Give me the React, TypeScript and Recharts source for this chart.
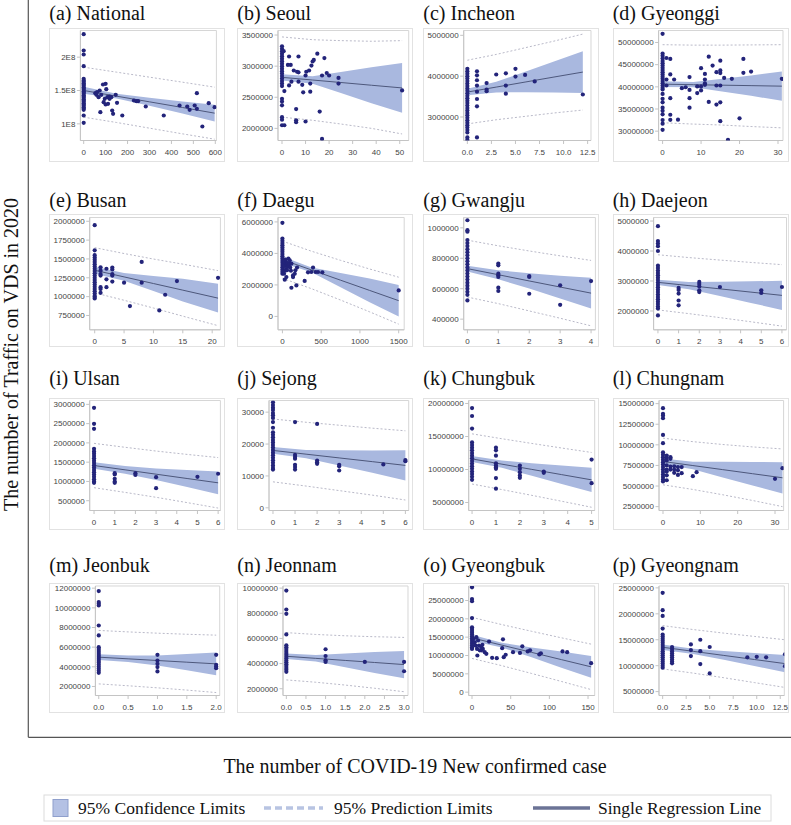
import * as React from 'react';
import { ComposedChart, XAxis, YAxis, Area, Line, Scatter, ReferenceArea } from 'recharts';

type Pt = [number, number];
// x, predLo, ciLo, fit, ciHi, predHi
type FitRow = [number, number, number, number, number, number];

const at = (x: number, ys: number[]): Pt[] => ys.map((y) => [x, y] as Pt);

const nationalPts: Pt[] = [
  ...at(0, [2.345e8, 2.1e8, 2.04e8, 1.865e8, 1.675e8, 1.65e8, 1.63e8, 1.61e8, 1.59e8, 1.57e8, 1.55e8, 1.53e8, 1.51e8, 1.49e8, 1.47e8, 1.45e8, 1.43e8, 1.41e8, 1.39e8, 1.37e8, 1.35e8, 1.33e8, 1.31e8, 1.29e8, 1.27e8, 1.25e8, 1.23e8, 1.21e8, 1.125e8, 1.015e8]),
  [53, 1.46e8], [58, 1.435e8], [61, 1.475e8], [68, 1.4e8], [73, 1.5e8], [76, 1.175e8], [80, 1.435e8], [88, 1.59e8],
  [91, 1.325e8], [96, 1.375e8], [100, 1.6e8], [100, 1.29e8], [103, 1.52e8], [108, 1.4e8], [111, 1.3e8], [118, 1.375e8],
  [118, 1.41e8], [126, 1.4e8], [130, 1.2e8], [134, 1.15e8], [146, 1.435e8], [152, 1.315e8], [176, 1.125e8], [229, 1.35e8],
  [240, 1.34e8], [248, 1.34e8], [283, 1.26e8], [365, 1.125e8], [437, 1.275e8], [472, 1.26e8], [483, 1.21e8], [506, 1.275e8],
  [516, 1.46e8], [516, 1.225e8], [541, 0.96e8], [570, 1.31e8], [597, 1.25e8],
];
const nationalFit: FitRow[] = [
  [0, 1.1e8, 1.45e8, 1.5e8, 1.555e8, 1.85e8],
  [150, 1.02e8, 1.38e8, 1.415e8, 1.45e8, 1.775e8],
  [300, 0.935e8, 1.27e8, 1.33e8, 1.39e8, 1.7e8],
  [450, 0.85e8, 1.155e8, 1.245e8, 1.335e8, 1.625e8],
  [597, 0.77e8, 1.035e8, 1.16e8, 1.285e8, 1.55e8],
];

const seoulPts: Pt[] = [
  ...at(0, [3.32e6, 3.28e6, 3.24e6, 3.2e6, 3.16e6, 3.12e6, 3.08e6, 3.04e6, 3.0e6, 2.96e6, 2.92e6, 2.88e6, 2.84e6, 2.8e6, 2.76e6, 2.72e6, 2.68e6, 2.475e6, 2.43e6, 2.37e6, 2.18e6, 2.14e6, 2.05e6]),
  [0.7, 3.24e6], [1, 2.6e6], [1, 2.05e6], [2.5, 3.02e6], [3, 3.155e6], [3.7, 3.02e6], [3, 2.69e6], [4, 2.75e6], [5, 2.93e6],
  [6, 2.31e6], [6, 2.13e6], [6, 2.1e6], [6.4, 2.91e6], [7, 3.155e6], [7, 2.9e6], [7, 2.75e6], [8.6, 2.7e6], [9, 2.58e6],
  [10, 2.11e6], [10, 2.85e6], [10.3, 2.91e6], [11.5, 2.93e6], [12, 2.72e6], [12, 2.59e6], [12.5, 3.01e6], [13, 3.075e6],
  [13.5, 3.1e6], [15, 3.2e6], [16, 2.27e6], [17, 2.85e6], [17, 1.83e6], [18, 3.13e6], [19, 2.89e6], [20, 2.85e6],
  [24, 2.81e6], [24, 2.72e6], [51, 2.61e6],
];
const seoulFit: FitRow[] = [
  [0, 2.18e6, 2.77e6, 2.82e6, 2.87e6, 3.47e6],
  [13, 2.13e6, 2.717e6, 2.777e6, 2.837e6, 3.425e6],
  [25, 2.07e6, 2.567e6, 2.737e6, 2.907e6, 3.41e6],
  [38, 2.0e6, 2.403e6, 2.693e6, 2.983e6, 3.4e6],
  [51, 1.91e6, 2.25e6, 2.65e6, 3.05e6, 3.41e6],
];

const incheonPts: Pt[] = [
  ...at(0, [4.18e6, 4.12e6, 4.06e6, 4.0e6, 3.94e6, 3.88e6, 3.82e6, 3.76e6, 3.7e6, 3.64e6, 3.58e6, 3.52e6, 3.46e6, 3.4e6, 3.34e6, 3.28e6, 3.22e6, 3.16e6, 3.1e6, 3.04e6, 2.98e6, 2.92e6, 2.86e6, 2.8e6, 2.74e6, 2.68e6, 2.62e6, 2.5e6, 2.44e6]),
  ...at(1, [4.12e6, 4.02e6, 3.9e6, 3.77e6, 3.62e6, 3.44e6, 3.26e6, 2.5e6]),
  ...at(2, [3.83e6, 3.67e6, 3.63e6]), [3, 4.04e6], ...at(4, [4.07e6, 3.77e6, 3.57e6]), ...at(5, [4.18e6, 3.99e6]),
  [6, 4.03e6], [7, 3.87e6], [12, 3.55e6],
];
const incheonFit: FitRow[] = [
  [0, 2.83e6, 3.53e6, 3.61e6, 3.69e6, 4.39e6],
  [3, 2.932e6, 3.602e6, 3.732e6, 3.862e6, 4.532e6],
  [6, 3.015e6, 3.605e6, 3.855e6, 4.105e6, 4.695e6],
  [9, 3.098e6, 3.598e6, 3.978e6, 4.358e6, 4.858e6],
  [12, 3.17e6, 3.59e6, 4.1e6, 4.61e6, 5.03e6],
];

const gyeonggiPts: Pt[] = [
  ...at(0, [51.95e6, 47.5e6, 47.0e6, 46.4e6, 45.8e6, 45.3e6, 44.8e6, 44.3e6, 43.8e6, 43.3e6, 42.8e6, 42.3e6, 41.8e6, 41.3e6, 40.8e6, 40.3e6, 39.8e6, 39.4e6, 38.4e6, 37.3e6, 36.5e6, 35.3e6, 34.6e6, 33.8e6, 32.5e6, 31.7e6, 30.3e6]),
  ...at(1, [46.5e6, 41.65e6, 40.3e6]), ...at(2, [46.3e6, 42.8e6, 37.45e6, 33.7e6, 32.55e6]), [3, 41.65e6], [4, 32.6e6],
  [5, 39.7e6], [6, 39.9e6], ...at(7, [42.2e6, 39.3e6, 37.45e6, 35.3e6]), ...at(9, [40.1e6, 38.6e6]),
  ...at(10, [44.2e6, 40.1e6, 39.2e6]), ...at(11, [42.9e6, 41.65e6, 40.8e6, 40.45e6]), ...at(12, [46.8e6, 36.6e6]),
  [13, 44.8e6], ...at(14, [43.3e6, 40.3e6, 36e6]), ...at(15, [45.9e6, 43.7e6, 43.1e6, 40.3e6, 36.5e6, 32.25e6]),
  [16, 42e6], [17, 28.05e6], [18, 41.8e6], [20, 32.9e6], ...at(21, [46.3e6, 43.15e6]), [23, 43.45e6], [31, 41.8e6],
];
const gyeonggiFit: FitRow[] = [
  [0, 31.9e6, 39.95e6, 40.6e6, 41.25e6, 49.5e6],
  [8, 31.6e6, 39.88e6, 40.48e6, 41.08e6, 49.4e6],
  [15, 31.4e6, 38.98e6, 40.38e6, 41.78e6, 49.4e6],
  [23, 31.05e6, 37.97e6, 40.27e6, 42.57e6, 49.45e6],
  [31, 30.75e6, 36.85e6, 40.15e6, 43.45e6, 49.5e6],
];

const busanPts: Pt[] = [
  ...at(0, [1.948e6, 1.615e6, 1.55e6, 1.52e6, 1.49e6, 1.46e6, 1.43e6, 1.4e6, 1.37e6, 1.34e6, 1.31e6, 1.28e6, 1.25e6, 1.22e6, 1.19e6, 1.16e6, 1.13e6, 1.1e6, 1.07e6, 1.04e6, 1.01e6, 0.995e6, 0.975e6]),
  ...at(1, [1.39e6, 1.345e6, 1.3e6, 1.28e6, 1.125e6, 1.1e6, 1.05e6]), ...at(2, [1.37e6, 1.23e6, 1.125e6]),
  ...at(3, [1.385e6, 1.36e6, 1.3e6, 1.28e6, 1.2e6]), [5, 1.185e6], [6, 0.875e6], ...at(8, [1.46e6, 1.185e6]),
  [11, 0.817e6], [12, 1.025e6], [14, 1.207e6], [21, 1.25e6],
];
const busanFit: FitRow[] = [
  [0, 1.05e6, 1.305e6, 1.35e6, 1.395e6, 1.65e6],
  [5, 0.952e6, 1.212e6, 1.262e6, 1.312e6, 1.572e6],
  [10, 0.849e6, 1.074e6, 1.174e6, 1.274e6, 1.499e6],
  [15, 0.741e6, 0.936e6, 1.086e6, 1.236e6, 1.431e6],
  [21, 0.615e6, 0.79e6, 0.98e6, 1.17e6, 1.345e6],
];

const daeguPts: Pt[] = [
  ...at(0, [5.94e6, 4.94e6, 4.8e6, 4.66e6, 4.52e6, 4.38e6, 4.24e6, 4.1e6, 3.96e6, 3.82e6, 3.68e6, 3.54e6, 3.4e6, 3.26e6, 3.12e6, 2.98e6, 2.84e6, 2.71e6]),
  [10, 3.5e6], [15, 3.3e6], [21, 2.71e6], [25, 3.45e6], [30, 2.33e6], [30, 3.2e6], [35, 2.9e6], [40, 3.6e6], [45, 3.0e6],
  [50, 3.4e6], [51, 2.5e6], [60, 2.93e6], [60, 3.3e6], [69, 3.35e6], [70, 3.15e6], [77, 3.67e6], [80, 3.25e6], [90, 3.35e6],
  [94, 3.56e6], [100, 3.1e6], [110, 2.9e6], [116, 1.82e6], [116, 3.35e6], [137, 2.5e6], [137, 2.6e6], [159, 2.71e6],
  [167, 2.93e6], [180, 1.97e6], [189, 3.1e6], [287, 2.25e6], [330, 2.8e6], [373, 2.82e6], [395, 3.1e6], [429, 2.82e6],
  [459, 2.82e6], [515, 2.8e6], [1500, 1.65e6],
];
const daeguFit: FitRow[] = [
  [0, 2.42e6, 3.39e6, 3.6e6, 3.81e6, 4.78e6],
  [375, 1.76e6, 2.8e6, 2.95e6, 3.1e6, 4.14e6],
  [750, 1.04e6, 1.85e6, 2.3e6, 2.75e6, 3.56e6],
  [1125, 0.29e6, 0.9e6, 1.65e6, 2.4e6, 3.01e6],
  [1500, -0.49e6, 0, 1.0e6, 2.0e6, 2.49e6],
];

const gwangjuPts: Pt[] = [
  ...at(0, [1.05e6, 0.985e6, 0.975e6, 0.92e6, 0.9e6, 0.88e6, 0.86e6, 0.84e6, 0.82e6, 0.8e6, 0.78e6, 0.76e6, 0.74e6, 0.72e6, 0.7e6, 0.68e6, 0.66e6, 0.64e6, 0.62e6, 0.6e6, 0.58e6, 0.56e6, 0.523e6]),
  ...at(1, [0.765e6, 0.754e6, 0.699e6, 0.688e6, 0.677e6, 0.607e6, 0.585e6]), ...at(2, [0.683e6, 0.677e6, 0.567e6]),
  ...at(3, [0.622e6, 0.494e6]), [4, 0.65e6],
];
const gwangjuFit: FitRow[] = [
  [0, 0.545e6, 0.713e6, 0.732e6, 0.751e6, 0.919e6],
  [1, 0.502e6, 0.662e6, 0.692e6, 0.722e6, 0.882e6],
  [2, 0.454e6, 0.601e6, 0.651e6, 0.701e6, 0.848e6],
  [3, 0.406e6, 0.536e6, 0.611e6, 0.686e6, 0.816e6],
  [4, 0.356e6, 0.47e6, 0.571e6, 0.672e6, 0.786e6],
];

const daejeonPts: Pt[] = [
  ...at(0, [4.83e6, 4.33e6, 4.25e6, 4.16e6, 4.0e6, 3.51e6, 3.43e6, 3.35e6, 3.27e6, 3.19e6, 3.11e6, 3.03e6, 2.95e6, 2.87e6, 2.79e6, 2.71e6, 2.63e6, 2.55e6, 2.47e6, 2.39e6, 2.31e6, 2.23e6, 2.15e6, 2.08e6, 1.85e6]),
  ...at(1, [2.77e6, 2.7e6, 2.58e6, 2.35e6, 2.19e6]), ...at(2, [2.97e6, 2.9e6, 2.82e6, 2.69e6, 2.63e6]), [3, 2.8e6],
  ...at(5, [2.69e6, 2.6e6]), [6, 2.8e6],
];
const daejeonFit: FitRow[] = [
  [0, 2.035e6, 2.865e6, 2.955e6, 3.045e6, 3.875e6],
  [1.5, 1.911e6, 2.726e6, 2.846e6, 2.966e6, 3.781e6],
  [3, 1.778e6, 2.498e6, 2.738e6, 2.978e6, 3.698e6],
  [4.5, 1.639e6, 2.269e6, 2.629e6, 2.989e6, 3.619e6],
  [6, 1.495e6, 2.035e6, 2.52e6, 3.005e6, 3.545e6],
];

const ulsanPts: Pt[] = [
  ...at(0, [2.91e6, 2.495e6, 2.365e6, 1.846e6, 1.78e6, 1.72e6, 1.66e6, 1.6e6, 1.54e6, 1.48e6, 1.42e6, 1.36e6, 1.3e6, 1.24e6, 1.18e6, 1.12e6, 1.06e6, 1.0e6, 0.964e6]),
  ...at(1, [1.215e6, 1.18e6, 1.067e6, 0.998e6, 0.964e6]), ...at(2, [1.215e6, 1.17e6]), ...at(3, [1.11e6, 0.825e6]),
  [5, 1.12e6], [6, 1.2e6],
];
const ulsanFit: FitRow[] = [
  [0, 0.838e6, 1.326e6, 1.413e6, 1.5e6, 1.988e6],
  [1.5, 0.716e6, 1.201e6, 1.301e6, 1.401e6, 1.886e6],
  [3, 0.5885e6, 1.0385e6, 1.1885e6, 1.3385e6, 1.7885e6],
  [4.5, 0.451e6, 0.856e6, 1.076e6, 1.296e6, 1.701e6],
  [6, 0.309e6, 0.67e6, 0.964e6, 1.258e6, 1.619e6],
];

const sejongPts: Pt[] = [
  ...at(0, [33100, 32200, 31400, 30700, 29700, 29000, 28200, 26900, 25100, 23700, 22900, 22100, 21300, 20500, 19700, 18900, 18100, 17300, 16500, 15700, 14900, 14100, 13300, 12500, 12000]),
  ...at(1, [26900, 16600, 15900, 15400, 13500, 12800, 12000]), ...at(2, [26300, 14800, 14300, 13800]),
  ...at(3, [13500, 13000, 11700]), [5, 13600], ...at(6, [15000, 14600]),
];
const sejongFit: FitRow[] = [
  [0, 8150, 16950, 18000, 19050, 27850],
  [1.5, 6825, 15525, 16825, 18125, 26825],
  [3, 5400, 13250, 15650, 18050, 25900],
  [4.5, 3975, 10975, 14475, 17975, 24975],
  [6, 2450, 8550, 13300, 18050, 24150],
];

const chungbukPts: Pt[] = [
  ...at(0, [19.3e6, 18.1e6, 16.2e6, 14.1e6, 13.7e6, 13.3e6, 12.9e6, 12.5e6, 12.1e6, 11.7e6, 11.3e6, 10.9e6, 10.5e6, 10.1e6, 9.7e6, 9.3e6, 8.9e6, 8.43e6]),
  ...at(1, [13.3e6, 12.9e6, 12.1e6, 10.95e6, 10.6e6, 10.35e6, 10.1e6, 8.7e6, 7.1e6]),
  ...at(2, [10.6e6, 10.1e6, 9.6e6, 9.1e6, 8.74e6]), ...at(3, [9.7e6, 9.5e6]), ...at(5, [11.5e6, 7.93e6]),
];
const chungbukFit: FitRow[] = [
  [0, 7.8e6, 11.15e6, 11.6e6, 12.05e6, 15.4e6],
  [1.25, 6.9575e6, 10.2575e6, 10.8075e6, 11.3575e6, 14.6575e6],
  [2.5, 6.085e6, 9.065e6, 10.015e6, 10.965e6, 13.945e6],
  [3.75, 5.1925e6, 7.8225e6, 9.2225e6, 10.6225e6, 13.2525e6],
  [5, 4.28e6, 6.59e6, 8.43e6, 10.27e6, 12.58e6],
];

const chungnamPts: Pt[] = [
  ...at(0, [14.45e6, 13.76e6, 13.55e6, 13.24e6, 11.2e6, 10.2e6, 9.1e6, 8.8e6, 8.5e6, 8.2e6, 7.9e6, 7.6e6, 7.3e6, 7.0e6, 6.7e6, 6.4e6, 6.1e6, 5.8e6, 5.55e6]),
  ...at(1, [8.7e6, 8.4e6, 8.1e6, 7.5e6, 7.0e6, 6.75e6, 6.3e6, 5.7e6]), ...at(2, [8.5e6, 8.3e6, 7.37e6, 7.0e6]),
  ...at(3, [7.4e6, 7.0e6, 6.6e6]), ...at(4, [7.3e6, 6.9e6, 6.35e6]), ...at(5, [7.3e6, 6.56e6]),
  [8, 6.2e6], [9, 6.68e6], [30, 5.87e6], [32, 7.17e6],
];
const chungnamFit: FitRow[] = [
  [0, 5.15e6, 7.63e6, 7.98e6, 8.33e6, 10.81e6],
  [8, 4.585e6, 7.035e6, 7.485e6, 7.935e6, 10.385e6],
  [16, 3.94e6, 6.04e6, 6.99e6, 7.94e6, 10.04e6],
  [24, 3.245e6, 5.075e6, 6.495e6, 7.915e6, 9.745e6],
  [32, 2.5e6, 4.1e6, 6.0e6, 7.9e6, 9.5e6],
];

const jeonbukPts: Pt[] = [
  ...at(0, [11.7e6, 10.58e6, 10.41e6, 10.24e6, 8.2e6, 7.19e6, 6.0e6, 5.8e6, 5.6e6, 5.4e6, 5.2e6, 5.0e6, 4.8e6, 4.6e6, 4.4e6, 4.2e6, 4.0e6, 3.8e6, 3.6e6, 3.39e6]),
  ...at(1, [5.22e6, 4.64e6, 4.3e6, 3.97e6, 3.53e6]), ...at(2, [5.22e6, 4.2e6, 4.03e6, 3.86e6]),
];
const jeonbukFit: FitRow[] = [
  [0, 2.26e6, 4.68e6, 4.98e6, 5.28e6, 7.7e6],
  [0.5, 2.07e6, 4.48e6, 4.81e6, 5.14e6, 7.55e6],
  [1, 1.86e6, 4.14e6, 4.64e6, 5.14e6, 7.42e6],
  [1.5, 1.63e6, 3.65e6, 4.47e6, 5.29e6, 7.31e6],
  [2, 1.38e6, 3.15e6, 4.3e6, 5.45e6, 7.22e6],
];

const jeonnamPts: Pt[] = [
  ...at(0, [9.81e6, 8.3e6, 7.96e6, 6.32e6, 5.45e6, 5.3e6, 5.15e6, 5.0e6, 4.85e6, 4.7e6, 4.55e6, 4.4e6, 4.25e6, 4.1e6, 3.95e6, 3.8e6, 3.65e6, 3.5e6, 3.34e6]),
  ...at(1, [5.14e6, 4.6e6, 4.26e6, 4.13e6]), [2, 4.13e6], ...at(3, [4.13e6, 3.39e6]),
];
const jeonnamFit: FitRow[] = [
  [0, 2.7e6, 4.365e6, 4.58e6, 4.795e6, 6.46e6],
  [0.75, 2.515e6, 4.155e6, 4.415e6, 4.675e6, 6.315e6],
  [1.5, 2.29e6, 3.7e6, 4.25e6, 4.8e6, 6.21e6],
  [2.25, 2.035e6, 3.255e6, 4.085e6, 4.915e6, 6.135e6],
  [3, 1.76e6, 2.84e6, 3.92e6, 5.0e6, 6.08e6],
];

const gyeongbukPts: Pt[] = [
  ...at(0, [28.6e6, 25.4e6, 24.8e6, 20.2e6, 17.7e6, 17.2e6, 16.7e6, 16.2e6, 15.7e6, 15.2e6, 14.7e6, 14.2e6, 13.7e6, 13.2e6, 12.7e6, 12.2e6, 11.8e6]),
  [2, 14.5e6], [3.4, 13.6e6], [4.7, 12.7e6], [5.6, 15e6], [6.5, 11.8e6], [6.9, 10e6], [7.8, 14.1e6], [9, 12.7e6],
  [10, 11.4e6], [12, 12.3e6], [12, 11.4e6], [13.4, 12.9e6], [14, 11.8e6], [16.4, 10.9e6], [18.5, 10.45e6], [22, 13.8e6],
  [26, 9.36e6], [32, 9.27e6], [39, 12e6], [40, 14.4e6], [41, 9.55e6], [43.5, 10.2e6], [53, 10.9e6], [62, 10.7e6],
  [65, 12.5e6], [72, 11.1e6], [75, 11.4e6], [87, 10.3e6], [89, 10.6e6], [117, 11.1e6], [123, 10.9e6], [154, 7.9e6],
];
const gyeongbukFit: FitRow[] = [
  [0, 9.2e6, 13.95e6, 14.8e6, 15.65e6, 20.4e6],
  [38.5, 7.225e6, 12.175e6, 12.825e6, 13.475e6, 18.425e6],
  [77, 5.1e6, 9.5e6, 10.85e6, 12.2e6, 16.6e6],
  [115.5, 2.925e6, 6.675e6, 8.875e6, 11.075e6, 14.825e6],
  [154, 0.7e6, 3.95e6, 6.9e6, 9.85e6, 13.1e6],
];

const gyeongnamPts: Pt[] = [
  ...at(0, [24.05e6, 20.7e6, 19.6e6, 17.15e6, 16.0e6, 15.6e6, 15.2e6, 14.8e6, 14.4e6, 14.0e6, 13.6e6, 13.2e6, 12.8e6, 12.4e6, 12.0e6, 11.6e6, 11.2e6, 10.8e6, 10.4e6, 10.0e6, 9.6e6]),
  ...at(1, [13.6e6, 13.2e6, 12.8e6, 12.4e6, 12.0e6, 11.6e6, 11.2e6, 10.8e6, 10.45e6]),
  ...at(3, [14.1e6, 13.0e6, 11.85e6]), ...at(4, [15.0e6, 12.8e6, 10.3e6]), ...at(5, [13.6e6, 8.5e6]),
  [9, 11.6e6], [10, 11.7e6], [11, 11.6e6], ...at(13, [12.2e6, 9.9e6]),
];
const gyeongnamFit: FitRow[] = [
  [0, 9.38e6, 13.0e6, 13.55e6, 14.1e6, 17.72e6],
  [3.25, 8.563e6, 12.263e6, 12.763e6, 13.263e6, 16.963e6],
  [6.5, 7.675e6, 11.125e6, 11.975e6, 12.825e6, 16.275e6],
  [9.75, 6.738e6, 9.938e6, 11.188e6, 12.438e6, 15.638e6],
  [13, 5.8e6, 8.75e6, 10.4e6, 12.05e6, 15.0e6],
];

// tick labels
const nationalXTicks = [0, 100, 200, 300, 400, 500, 600];
const nationalYTicks = [1e8, 1.5e8, 2e8];
const seoulXTicks = [0, 10, 20, 30, 40, 50];
const seoulYTicks = [2000000, 2500000, 3000000, 3500000];
const incheonXTicks = [0, 2.5, 5, 7.5, 10, 12.5];
const incheonYTicks = [3000000, 4000000, 5000000];
const gyeonggiXTicks = [0, 10, 20, 30];
const gyeonggiYTicks = [30000000, 35000000, 40000000, 45000000, 50000000];
const busanXTicks = [0, 5, 10, 15, 20];
const busanYTicks = [750000, 1000000, 1250000, 1500000, 1750000, 2000000];
const daeguXTicks = [0, 500, 1000, 1500];
const daeguYTicks = [0, 2000000, 4000000, 6000000];
const gwangjuXTicks = [0, 1, 2, 3, 4];
const gwangjuYTicks = [400000, 600000, 800000, 1000000];
const daejeonXTicks = [0, 1, 2, 3, 4, 5, 6];
const daejeonYTicks = [2000000, 3000000, 4000000, 5000000];
const ulsanXTicks = [0, 1, 2, 3, 4, 5, 6];
const ulsanYTicks = [500000, 1000000, 1500000, 2000000, 2500000, 3000000];
const sejongXTicks = [0, 1, 2, 3, 4, 5, 6];
const sejongYTicks = [0, 10000, 20000, 30000];
const chungbukXTicks = [0, 1, 2, 3, 4, 5];
const chungbukYTicks = [5000000, 10000000, 15000000, 20000000];
const chungnamXTicks = [0, 10, 20, 30];
const chungnamYTicks = [2500000, 5000000, 7500000, 10000000, 12500000, 15000000];
const jeonbukXTicks = [0, 0.5, 1, 1.5, 2];
const jeonbukYTicks = [2000000, 4000000, 6000000, 8000000, 10000000, 12000000];
const jeonnamXTicks = [0, 0.5, 1, 1.5, 2, 2.5, 3];
const jeonnamYTicks = [2000000, 4000000, 6000000, 8000000, 10000000];
const gyeongbukXTicks = [0, 50, 100, 150];
const gyeongbukYTicks = [0, 5000000, 10000000, 15000000, 20000000, 25000000];
const gyeongnamXTicks = [0, 2.5, 5, 7.5, 10, 12.5];
const gyeongnamYTicks = [5000000, 10000000, 15000000, 20000000, 25000000];

const colLeft = [49.3, 237.3, 423.3, 612.7];
const FRAME_W = 176;
const rowFrameTop = [27.5, 213.5, 397.5, 582.5];
const rowPlotTop = [30, 217, 400, 585.5];
const rowPlotBottom = [140, 329.3, 510, 695];
const rowFrameBottom = [162.3, 347, 530, 713.3];
const rowTitleBase = [20, 207, 385, 572];

interface PanelSpec {
  title: string;
  pts: Pt[];
  fit: FitRow[];
  xDomain: [number, number];
  yDomain: [number, number];
  xTicks: number[];
  yTicks: number[];
  yWidth: number;
  right: number;
  xDec?: boolean;
  yE8?: boolean;
}

const panels: PanelSpec[] = [
  { title: '(a) National', pts: nationalPts, fit: nationalFit, xDomain: [-15, 605], yDomain: [0.75e8, 2.4e8], xTicks: nationalXTicks, yTicks: nationalYTicks, yWidth: 31.4, right: 8.6, yE8: true },
  { title: '(b) Seoul', pts: seoulPts, fit: seoulFit, xDomain: [-1.7, 53.8], yDomain: [1.805e6, 3.573e6], xTicks: seoulXTicks, yTicks: seoulYTicks, yWidth: 41, right: 4.3 },
  { title: '(c) Incheon', pts: incheonPts, fit: incheonFit, xDomain: [-0.38, 12.85], yDomain: [2.424e6, 5.118e6], xTicks: incheonXTicks, yTicks: incheonYTicks, yWidth: 40.7, right: 8, xDec: true },
  { title: '(d) Gyeonggi', pts: gyeonggiPts, fit: gyeonggiFit, xDomain: [-1.04, 31.3], yDomain: [27.9e6, 52.7e6], xTicks: gyeonggiXTicks, yTicks: gyeonggiYTicks, yWidth: 45.6, right: 6 },
  { title: '(e) Busan', pts: busanPts, fit: busanFit, xDomain: [-0.85, 21.4], yDomain: [0.56e6, 2.05e6], xTicks: busanXTicks, yTicks: busanYTicks, yWidth: 40.7, right: 4.6 },
  { title: '(f) Daegu', pts: daeguPts, fit: daeguFit, xDomain: [-57, 1571], yDomain: [-0.85e6, 6.28e6], xTicks: daeguXTicks, yTicks: daeguYTicks, yWidth: 41, right: 8.8 },
  { title: '(g) Gwangju', pts: gwangjuPts, fit: gwangjuFit, xDomain: [-0.12, 4.14], yDomain: [0.33e6, 1.068e6], xTicks: gwangjuXTicks, yTicks: gwangjuYTicks, yWidth: 40.7, right: 3.6 },
  { title: '(h) Daejeon', pts: daejeonPts, fit: daejeonFit, xDomain: [-0.21, 6.22], yDomain: [1.372e6, 5.118e6], xTicks: daejeonXTicks, yTicks: daejeonYTicks, yWidth: 40.6, right: 2.5 },
  { title: '(i) Ulsan', pts: ulsanPts, fit: ulsanFit, xDomain: [-0.21, 6.11], yDomain: [0.246e6, 3.1e6], xTicks: ulsanXTicks, yTicks: ulsanYTicks, yWidth: 40.7, right: 4.6 },
  { title: '(j) Sejong', pts: sejongPts, fit: sejongFit, xDomain: [-0.18, 6.15], yDomain: [-840, 33650], xTicks: sejongXTicks, yTicks: sejongYTicks, yWidth: 32, right: 4.3 },
  { title: '(k) Chungbuk', pts: chungbukPts, fit: chungbukFit, xDomain: [-0.14, 5.13], yDomain: [3.79e6, 20.45e6], xTicks: chungbukXTicks, yTicks: chungbukYTicks, yWidth: 45.7, right: 4.3 },
  { title: '(l) Chungnam', pts: chungnamPts, fit: chungnamFit, xDomain: [-1.07, 32.3], yDomain: [2.03e6, 15.38e6], xTicks: chungnamXTicks, yTicks: chungnamYTicks, yWidth: 46, right: 5.4 },
  { title: '(m) Jeonbuk', pts: jeonbukPts, fit: jeonbukFit, xDomain: [-0.057, 2.06], yDomain: [1.08e6, 12.22e6], xTicks: jeonbukXTicks, yTicks: jeonbukYTicks, yWidth: 46.4, right: 5.3, xDec: true },
  { title: '(n) Jeonnam', pts: jeonnamPts, fit: jeonnamFit, xDomain: [-0.085, 3.1], yDomain: [1.46e6, 10.17e6], xTicks: jeonnamXTicks, yTicks: jeonnamYTicks, yWidth: 46, right: 5, xDec: true },
  { title: '(o) Gyeongbuk', pts: gyeongbukPts, fit: gyeongbukFit, xDomain: [-4.3, 158.6], yDomain: [-0.91e6, 28.95e6], xTicks: gyeongbukXTicks, yTicks: gyeongbukYTicks, yWidth: 45.7, right: 4.3 },
  { title: '(p) Gyeongnam', pts: gyeongnamPts, fit: gyeongnamFit, xDomain: [-0.39, 12.93], yDomain: [4.25e6, 25.36e6], xTicks: gyeongnamXTicks, yTicks: gyeongnamYTicks, yWidth: 46, right: 4.7, xDec: true },
];

const DOT = '#23247a';
const BAND = '#a9b8df';
const FIT_LINE = '#4d577b';
const PRED = '#b9b9c8';
const tickStyle = { fontSize: 8, fill: '#444', fontFamily: "'Liberation Sans', Arial, sans-serif" };

const dotShape = (props: any) => <circle cx={props.cx} cy={props.cy} r={2.1} fill={DOT} />;

const Panel = ({ p, idx }: { p: PanelSpec; idx: number }) => {
  const col = idx % 4;
  const row = Math.floor(idx / 4);
  const left = colLeft[col];
  const top = rowFrameTop[row];
  const h = rowFrameBottom[row] - top;
  const data = p.fit.map(([x, plo, lo, f, hi, phi]) => ({ x, plo, ci: [lo, hi], fit: f, phi }));
  const pts = p.pts.map(([x, y]) => ({ x, y }));
  const fmtX = (v: number) => (p.xDec ? v.toFixed(1) : String(v));
  const fmtY = (v: number) => (p.yE8 ? `${v / 1e8}E8` : String(v));

  return (
    <>
      <div
        style={{
          position: 'absolute', left, top, width: FRAME_W, height: h,
          border: '1px solid #e2e2e2', boxSizing: 'border-box',
        }}
      />
      <div style={{ position: 'absolute', left, top, width: FRAME_W, height: h }}>
        <ComposedChart
          width={FRAME_W}
          height={h}
          data={data}
          margin={{ top: rowPlotTop[row] - top, right: p.right, bottom: 0, left: 0 }}
        >
          <XAxis
            type="number"
            dataKey="x"
            domain={p.xDomain}
            allowDataOverflow
            ticks={p.xTicks}
            interval={0}
            height={rowFrameBottom[row] - rowPlotBottom[row]}
            tickSize={3.5}
            tickMargin={5}
            tick={tickStyle}
            tickFormatter={fmtX}
            stroke="#c4c4c4"
          />
          <YAxis
            type="number"
            domain={p.yDomain}
            allowDataOverflow
            ticks={p.yTicks}
            interval={0}
            width={p.yWidth}
            tickSize={3.5}
            tickMargin={1.5}
            tick={tickStyle}
            tickFormatter={fmtY}
            stroke="#c4c4c4"
          />
          <ReferenceArea
            x1={p.xDomain[0]}
            x2={p.xDomain[1]}
            y1={p.yDomain[0]}
            y2={p.yDomain[1]}
            fill="none"
            stroke="#d6d6d6"
          />
          <Area type="linear" dataKey="ci" fill={BAND} fillOpacity={1} stroke="none" isAnimationActive={false} />
          <Line type="linear" dataKey="plo" stroke={PRED} strokeWidth={1} strokeDasharray="2 2" dot={false} isAnimationActive={false} />
          <Line type="linear" dataKey="phi" stroke={PRED} strokeWidth={1} strokeDasharray="2 2" dot={false} isAnimationActive={false} />
          <Line type="linear" dataKey="fit" stroke={FIT_LINE} strokeWidth={1} dot={false} isAnimationActive={false} />
          <Scatter data={pts} dataKey="y" fill={DOT} shape={dotShape} isAnimationActive={false} />
        </ComposedChart>
      </div>
    </>
  );
};

const serif = "'Liberation Serif', 'Times New Roman', serif";

export default function App() {
  return (
    <div style={{ position: 'absolute', left: 0, top: 0, width: 791, height: 825, background: '#fff' }}>
      {panels.map((p, i) => (
        <Panel key={p.title} p={p} idx={i} />
      ))}
      <svg width={791} height={825} style={{ position: 'absolute', left: 0, top: 0, pointerEvents: 'none' }}>
        {panels.map((p, i) => (
          <text key={p.title} x={colLeft[i % 4]} y={rowTitleBase[Math.floor(i / 4)]} fontFamily={serif} fontSize={20} fill="#111">
            {p.title}
          </text>
        ))}
        <line x1={28.3} y1={0} x2={28.3} y2={737.3} stroke="#555" strokeWidth={1.2} />
        <line x1={28.3} y1={737.3} x2={791} y2={737.3} stroke="#555" strokeWidth={1.2} />
        <text x={18} y={354.5} transform="rotate(-90 18 354.5)" textAnchor="middle" fontFamily={serif} fontSize={20} fill="#111">
          The number of Traffic on VDS in 2020
        </text>
        <text x={415} y={773} textAnchor="middle" fontFamily={serif} fontSize={20} fill="#111">
          The number of COVID-19 New confirmed case
        </text>
        <rect x={44} y={795} width={727} height={26} fill="#fff" stroke="#dcdcdc" />
        <rect x={53} y={799.5} width={15} height={17} fill="#b4c1e4" stroke="#8f9fcc" />
        <text x={78} y={813.5} fontFamily={serif} fontSize={17.5} fill="#111">95% Confidence Limits</text>
        <line x1={264} y1={808} x2={323} y2={808} stroke="#b8c4e2" strokeWidth={3.5} strokeDasharray="7 4" />
        <text x={334} y={813.5} fontFamily={serif} fontSize={17.5} fill="#111">95% Prediction Limits</text>
        <line x1={533} y1={808} x2={590} y2={808} stroke="#6b7396" strokeWidth={3.5} />
        <text x={598} y={813.5} fontFamily={serif} fontSize={17.5} fill="#111">Single Regression Line</text>
      </svg>
    </div>
  );
}
